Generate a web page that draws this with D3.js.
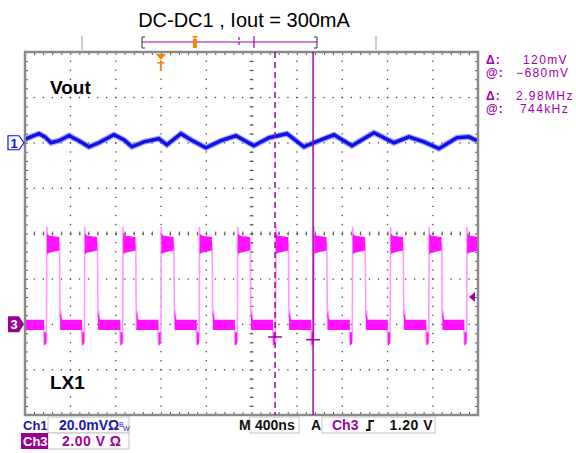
<!DOCTYPE html>
<html>
<head>
<meta charset="utf-8">
<script src="https://cdn.jsdelivr.net/npm/d3@7"></script>
<style>
body { margin: 0; background: #fff; }
svg { display: block; font-family: "Liberation Sans", Arial, sans-serif; }
</style>
</head>
<body>
<script>
//
// Scope screenshot: DC-DC1 output ripple (Ch1) and LX1 switch node (Ch3)
//

// ---- data ----
const title = "DC-DC1 , Iout = 300mA";

// Ch1 Vout ripple, 20 mV/div: time (ns, trigger = 0) and value (mV vs. ch1 marker)
const voutTimes = [-1210, -1148, -1077, -1024, -971, -900, -812, -724, -636, -547, -415, -327, -256, -150, -18, 53,
                   177, 265, 397, 530, 662, 821, 954, 1113, 1263, 1395, 1528, 1687, 1881, 2058, 2190, 2322, 2455, 2614, 2720, 2790];
const voutMv = [1.3, 2.6, 4.0, 2.6, 0.0, 0.9, 3.1, 0.9, -1.8, 0.0, 3.5, 1.3, -1.8, 0.4, 1.8, -0.9,
                4.0, 1.3, -2.2, 0.9, 3.1, -1.3, 2.2, 4.0, -1.8, 0.9, 3.5, -1.3, 4.4, 0.0, 2.6, 0.4, -2.6, 2.2, 2.6, 0.9];

// Ch3 LX1, 2 V/div: rising edge times (ns) and high time
const lxRise = [-1010, -675, -337, 0, 338, 675, 1012, 1350, 1690, 2025, 2365, 2700];
const lxHighTime = 115;
// levels in volts
const lxSpike = 4.3, lxHighTop = [4.0, 3.9, 3.85], lxHighBottom = [3.1, 3.15, 3.25];
const lxLowTop = 0.2, lxLowBottom = -0.25, lxDipTop = -0.35, lxDipBottom = -0.95;

// cursors
const cursorTimes = [1008, 1344];          // ns (dashed, solid)
const cursorVolts = [-0.56, -0.68];        // V on ch3
const trigLevel = 1.2;                      // V
const readouts = [["\u0394:", "120mV"], ["@:", "\u2212680mV"], ["\u0394:", "2.98MHz"], ["@:", "744kHz"]];

// ---- layout ----
const width = 576, height = 453;
const plot = {left: 25, right: 478, top: 52, bottom: 415};
const blue = "#1010e8", mag = "#ff10ff", magEdge = "#ff99ff", purple = "#a000a8", orange = "#ff8000";

const svg = d3.select("body").append("svg")
              .attr("width", width)
              .attr("height", height);

// scales: divisions, time, channels
const xDiv = d3.scaleLinear().domain([0, 10]).range([plot.left, plot.right]);
const yDiv = d3.scaleLinear().domain([-4, 4]).range([plot.bottom, plot.top]);
const xT = d3.scaleLinear().domain([-1200, 2800]).range([plot.left, plot.right]);
const y1 = mv => yDiv(2 + mv / 20);
const y3 = v => yDiv(-2 + v / 2);

// title
svg.append("text").attr("x", 244).attr("y", 27).attr("text-anchor", "middle")
   .attr("font-size", 20).text(title);

// ---- graticule ----
const g = svg.append("g");
const subX = d3.range(0, 50.001, 1).map(d => d / 5);
const subY = d3.range(-20, 20.001, 1).map(d => d / 5);

// dotted grid lines
d3.range(1, 10).forEach(i => {
  g.selectAll(null).data(subY).enter().append("rect")
   .attr("x", xDiv(i) - 0.5).attr("y", d => yDiv(d) - 0.5)
   .attr("width", 1.3).attr("height", 1.3).attr("fill", "#444");
});
d3.range(-3, 4).forEach(j => {
  g.selectAll(null).data(subX).enter().append("rect")
   .attr("x", d => xDiv(d) - 0.5).attr("y", yDiv(j) - 0.5)
   .attr("width", 1.3).attr("height", 1.3).attr("fill", "#444");
});

// ticks on frame edges and centre cross, via axis generators
const tickStyle = sel => { sel.select(".domain").remove(); sel.selectAll(".tick line").attr("stroke", "#555"); };
g.append("g").attr("transform", `translate(0,${plot.top})`)
 .call(d3.axisBottom(xDiv).tickValues(subX).tickSize(3).tickFormat("")).call(tickStyle);
g.append("g").attr("transform", `translate(0,${plot.bottom})`)
 .call(d3.axisTop(xDiv).tickValues(subX).tickSize(3).tickFormat("")).call(tickStyle);
g.append("g").attr("transform", `translate(${plot.left},0)`)
 .call(d3.axisRight(yDiv).tickValues(subY).tickSize(3).tickFormat("")).call(tickStyle);
g.append("g").attr("transform", `translate(${plot.right},0)`)
 .call(d3.axisLeft(yDiv).tickValues(subY).tickSize(3).tickFormat("")).call(tickStyle);
g.append("g").attr("transform", `translate(0,${yDiv(0) - 2})`)
 .call(d3.axisBottom(xDiv).tickValues(subX).tickSize(4).tickFormat("")).call(tickStyle);
g.append("g").attr("transform", `translate(${xDiv(5) - 2},0)`)
 .call(d3.axisRight(yDiv).tickValues(subY).tickSize(4).tickFormat("")).call(tickStyle);

// frame
g.append("rect").attr("x", plot.left).attr("y", plot.top)
 .attr("width", plot.right - plot.left).attr("height", plot.bottom - plot.top)
 .attr("fill", "none").attr("stroke", "#8a8a8a").attr("stroke-width", 2.5);

// clip for traces
svg.append("clipPath").attr("id", "clip").append("rect")
   .attr("x", plot.left + 1).attr("y", plot.top + 1)
   .attr("width", plot.right - plot.left - 2).attr("height", plot.bottom - plot.top - 2);
const traces = svg.append("g").attr("clip-path", "url(#clip)");

// ---- Ch3 LX1 ----
const lxLine = [];
lxRise.forEach(r => {
  const f = r + lxHighTime;
  lxLine.push([r - 26, 0], [r - 20, -0.9], [r - 4, -0.7], [r, -0.8], [r + 3, lxSpike],
              [r + 10, 3.6], [f, 3.55], [f + 4, 0.3], [f + 12, 0.6], [f + 20, 0]);
});
traces.append("path")
  .attr("d", d3.line().x(d => xT(d[0])).y(d => y3(d[1]))(lxLine))
  .attr("fill", "none").attr("stroke", magEdge).attr("stroke-width", 1.6);

const band = d3.area().x(d => xT(d[0])).y0(d => y3(d[2])).y1(d => y3(d[1]));
lxRise.forEach((r, i) => {
  const f = r + lxHighTime;
  const prevF = i > 0 ? lxRise[i - 1] + lxHighTime : r - 337 + lxHighTime;
  // high plateau
  traces.append("path").attr("fill", mag)
    .attr("d", band([[r + 4, lxHighTop[0], lxHighBottom[0]], [r + 25, lxHighTop[1], lxHighBottom[1]],
                     [f - 2, lxHighTop[2], lxHighBottom[2]]]));
  // dead-time dip before the rising edge
  traces.append("path").attr("fill", mag)
    .attr("d", band([[r - 20, lxDipTop, lxDipBottom], [r - 2, lxDipTop, lxDipBottom + 0.1]]));
  // low plateau
  traces.append("path").attr("fill", mag)
    .attr("d", band([[prevF + 5, 0.55, lxLowBottom], [prevF + 20, lxLowTop, lxLowBottom],
                     [r - 22, lxLowTop, lxLowBottom]]));
});

// ---- Ch1 Vout ----
const vPts = voutTimes.map((t, i) => [t, voutMv[i]]);
const vLine = d3.line().x(d => xT(d[0])).y(d => y1(d[1]));
traces.append("path").attr("d", vLine(vPts))
  .attr("fill", "none").attr("stroke", "#6a6aff").attr("stroke-width", 6).attr("opacity", 0.6);
traces.append("path").attr("d", vLine(vPts))
  .attr("fill", "none").attr("stroke", blue).attr("stroke-width", 3.5);

// ---- cursors ----
cursorTimes.forEach((t, i) => {
  svg.append("line").attr("x1", xT(t)).attr("x2", xT(t)).attr("y1", plot.top).attr("y2", plot.bottom)
     .attr("stroke", purple).attr("stroke-width", 1.5)
     .attr("stroke-dasharray", i === 0 ? "6,4" : null);
  svg.append("line").attr("x1", xT(t) - 7).attr("x2", xT(t) + 7)
     .attr("y1", y3(cursorVolts[i])).attr("y2", y3(cursorVolts[i]))
     .attr("stroke", purple).attr("stroke-width", 1.5);
});

// trigger level arrow on right edge
const ty = y3(trigLevel);
svg.append("path").attr("d", `M${plot.right - 9},${ty} L${plot.right - 3},${ty - 5} L${plot.right - 3},${ty + 5} Z`)
   .attr("fill", purple);

// trigger position marker
const tx = xT(0);
svg.append("path").attr("d", `M${tx - 5},${plot.top + 2} H${tx + 5} L${tx},${plot.top + 8} Z`).attr("fill", orange);
svg.append("text").attr("x", tx).attr("y", plot.top + 19).attr("text-anchor", "middle")
   .attr("font-size", 12).attr("font-weight", "bold").attr("fill", orange).text("T");

// ---- record view above the frame ----
const rec = svg.append("g");
[82, 376].forEach(x => rec.append("line").attr("x1", x).attr("x2", x).attr("y1", 36).attr("y2", 50)
  .attr("stroke", "#999").attr("stroke-width", 1));
rec.append("line").attr("x1", 142).attr("x2", 317).attr("y1", 42).attr("y2", 42).attr("stroke", purple).attr("stroke-width", 1.2);
rec.append("path").attr("d", "M145,37 H142 V48 H145 M314,37 H317 V48 H314").attr("fill", "none").attr("stroke", "#333");
rec.append("line").attr("x1", 239).attr("x2", 239).attr("y1", 37).attr("y2", 47).attr("stroke", purple).attr("stroke-dasharray", "3,2").attr("stroke-width", 1.2);
rec.append("line").attr("x1", 254).attr("x2", 254).attr("y1", 36).attr("y2", 48).attr("stroke", purple).attr("stroke-width", 1.2);
rec.append("path").attr("d", "M192,36 H198 L195,39 Z").attr("fill", orange);
rec.append("rect").attr("x", 193).attr("y", 39).attr("width", 4).attr("height", 9).attr("fill", orange);

// ---- channel markers ----
const c1y = y1(0), c3y = y3(0);
svg.append("path").attr("d", `M8,${c1y - 7} H19 L24,${c1y} L19,${c1y + 7} H8 Z`)
   .attr("fill", "#fff").attr("stroke", blue).attr("stroke-width", 1.2);
svg.append("text").attr("x", 14).attr("y", c1y + 5).attr("text-anchor", "middle")
   .attr("font-size", 13).attr("font-weight", "bold").attr("fill", blue).text("1");
svg.append("path").attr("d", `M8,${c3y - 8} H19 L24,${c3y} L19,${c3y + 8} H8 Z`).attr("fill", "#9a0096");
svg.append("text").attr("x", 14).attr("y", c3y + 5).attr("text-anchor", "middle")
   .attr("font-size", 13).attr("font-weight", "bold").attr("fill", "#fff").text("3");

// trace labels
svg.append("text").attr("x", 50).attr("y", 94).attr("font-size", 19).attr("font-weight", "bold").text("Vout");
svg.append("text").attr("x", 50).attr("y", 389).attr("font-size", 19).attr("font-weight", "bold").text("LX1");

// cursor readouts
readouts.forEach((r, i) => {
  const y = [64, 77, 100, 113][i];
  svg.append("text").attr("x", 486).attr("y", y).attr("font-size", 12).attr("fill", purple)
     .attr("font-weight", "bold").attr("letter-spacing", 1).text(r[0]);
  svg.append("text").attr("x", [523, 516, 516, 520][i]).attr("y", y).attr("font-size", 12).attr("fill", purple)
     .attr("letter-spacing", 1.4).text(r[1]);
});

// ---- status bar ----
const st = svg.append("g").attr("font-size", 14).attr("font-weight", "bold");
const box = (x, y, w, h) => st.append("rect").attr("x", x).attr("y", y).attr("width", w).attr("height", h)
  .attr("fill", "#fff").attr("stroke", "#c4c4c4").attr("stroke-width", 1);
box(48, 417, 81, 16); box(48, 433, 81, 16); box(250, 417, 49, 16); box(322, 417, 113, 16);
st.append("rect").attr("x", 21).attr("y", 433).attr("width", 27).attr("height", 16).attr("fill", "#9a0096");
st.append("text").attr("x", 23).attr("y", 430).attr("fill", "#1a1aa8").attr("font-size", 13).text("Ch1");
st.append("text").attr("x", 23).attr("y", 446).attr("fill", "#fff").attr("font-size", 13).text("Ch3");
st.append("text").attr("x", 59).attr("y", 430).attr("fill", "#1a1aa8").text("20.0mV\u03A9");
st.append("text").attr("x", 119).attr("y", 427).attr("font-size", 7).attr("font-weight", "normal").attr("fill", "#1a1aa8").text("B");
st.append("text").attr("x", 123).attr("y", 431).attr("font-size", 7).attr("font-weight", "normal").attr("fill", "#1a1aa8").text("W");
st.append("text").attr("x", 62).attr("y", 446).attr("fill", purple).attr("letter-spacing", 0.5).text("2.00 V \u03A9");
st.append("text").attr("x", 239).attr("y", 430).attr("fill", "#111").text("M");
st.append("text").attr("x", 255).attr("y", 430).attr("fill", "#111").text("400ns");
st.append("text").attr("x", 311).attr("y", 430).attr("fill", "#111").text("A");
st.append("text").attr("x", 332).attr("y", 430).attr("fill", purple).text("Ch3");
st.append("path").attr("d", "M366,430 H369.5 V421 H374").attr("fill", "none").attr("stroke", "#111").attr("stroke-width", 2);
st.append("text").attr("x", 433).attr("y", 430).attr("text-anchor", "end").attr("fill", "#111").attr("letter-spacing", 0.5).text("1.20 V");
</script>
</body>
</html>
